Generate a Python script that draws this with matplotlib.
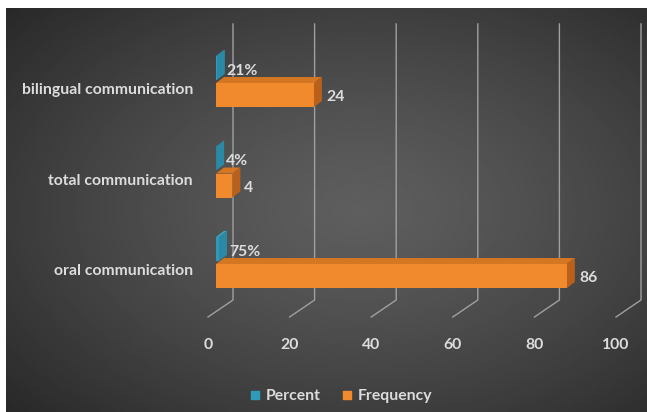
import numpy as np
import matplotlib.pyplot as plt
from matplotlib.patches import Polygon

plt.rcParams['font.family'] = ['Lato', 'DejaVu Sans']

categories = ["oral communication", "total communication", "bilingual communication"]
frequency = [86, 4, 24]
percent = [0.75, 0.04, 0.21]
xticks = [0, 20, 40, 60, 80, 100]

W, H = 647, 412
fig = plt.figure(figsize=(W / 100, H / 100), dpi=100, facecolor="white")

# dark radial background
bg = fig.add_axes([6 / W, 0, 1 - 6 / W, 404 / H])
gx, gy = np.meshgrid(np.linspace(0, 1, 300), np.linspace(0, 1, 200))
r = np.sqrt(((gx - 0.55) / 0.75) ** 2 + ((gy - 0.5) / 0.75) ** 2)
shade = (0x5e - (0x5e - 0x28) * np.clip(r, 0, 1) ** 1.3) / 255
bg.imshow(shade, cmap="gray", vmin=0, vmax=1, aspect="auto", extent=[0, 1, 0, 1])
bg.axis("off")

# plot area (front face of bars starts at pixel x=216, floor at y=317)
ax = fig.add_axes([216 / W, (H - 317) / H, 408 / W, 293 / H])
ax.set_facecolor("none")
xmin, xmax = 0, 100
ymin, ymax = -0.603, 2.635
ax.set_xlim(xmin, xmax)
ax.set_ylim(ymin, ymax)
for s in ax.spines.values():
    s.set_visible(False)

sx = (xmax - xmin) / 408   # data units per pixel
sy = (ymax - ymin) / 293

idx = np.arange(len(categories))
bar_h = 0.265
off = 0.15
ddx, ddy = 8 * sx, 6 * sy   # 3d depth

txt = "#dcdcdc"
grid_c = "#a0a0a0"
fs = 11.3

# walls / gridlines
for v in xticks:
    xb = v + 17 * sx
    xf = v - 8 * sx
    ax.plot([xb, xb, xf], [ymax, ymin + 17 * sy, ymin], color=grid_c, lw=1.0,
            clip_on=False, zorder=1)
    ax.text(xf, ymin - 28 * sy, str(v), color=txt, fontsize=fs, fontweight="bold",
            ha="center", va="center")


def bar3d(val, yc, front, top, side):
    y0, y1 = yc - bar_h / 2, yc + bar_h / 2
    ax.add_patch(Polygon([(0, y1), (ddx, y1 + ddy), (val + ddx, y1 + ddy), (val, y1)],
                         closed=True, fc=top, ec="none", zorder=3))
    ax.add_patch(Polygon([(val, y0), (val + ddx, y0 + ddy), (val + ddx, y1 + ddy), (val, y1)],
                         closed=True, fc=side, ec="none", zorder=3))
    ax.barh(yc, val, height=bar_h, left=0, color=front, zorder=4)
    # shadow on the left
    ax.add_patch(Polygon([(-2 * sx, y0 - 2 * sy), (0, y0), (0, y1 + ddy), (-2 * sx, y1 + ddy)],
                         closed=True, fc="#222222", alpha=0.6, ec="none", zorder=2))


for i in idx:
    bar3d(percent[i], i + off, "#2f9bb8", "#3aa8c4", "#2a8aa5")
    bar3d(frequency[i], i - off, "#f08a2c", "#d47622", "#b9611b")
    ax.text(percent[i] + ddx + 2 * sx, i + off - 3 * sy, f"{percent[i]:.0%}", color=txt,
            fontsize=fs, fontweight="bold", ha="left", va="center", zorder=5)
    ax.text(frequency[i] + ddx + 4 * sx, i - off - 2 * sy, str(frequency[i]), color=txt,
            fontsize=fs, fontweight="bold", ha="left", va="center", zorder=5)

ax.set_yticks(idx - 0.08)
ax.set_yticklabels(categories, color=txt, fontsize=fs, fontweight="bold")
ax.tick_params(axis="y", length=0, pad=16.5)
ax.set_xticks([])

# legend
h1 = ax.scatter([], [], marker="s", s=30, color="#2f9bb8")
h2 = ax.scatter([], [], marker="s", s=30, color="#f08a2c")
fig.legend([h1, h2], ["Percent", "Frequency"], loc="center", bbox_to_anchor=(0.525, 0.04),
           ncol=2, frameon=False, labelcolor=txt, prop={"size": fs, "weight": "bold"},
           handletextpad=0.2, columnspacing=1.2, handlelength=1.0)

fig.savefig("out.png", dpi=100, facecolor="white")
